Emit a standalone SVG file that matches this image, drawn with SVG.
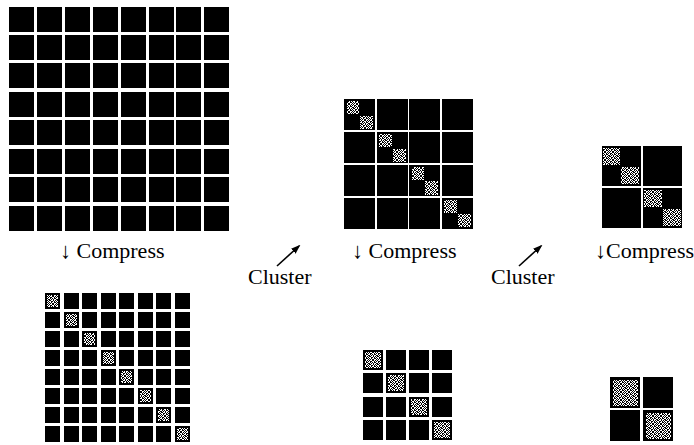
<svg xmlns="http://www.w3.org/2000/svg" xmlns:xlink="http://www.w3.org/1999/xlink" width="694" height="445" viewBox="0 0 694 445">
  <style>
    .blk { fill: #000; shape-rendering: crispEdges; }
    .gry { fill: url(#dither); shape-rendering: crispEdges; }
    .lbl { font-family: "Liberation Serif", "Times New Roman", serif; font-size: 22px; fill: #000; }
    .arr { stroke: #000; stroke-width: 1.6; fill: none; marker-end: url(#head); }
  </style>
  <defs>
    <pattern id="dither" patternUnits="userSpaceOnUse" x="0" y="0" width="8" height="8">
      <rect width="8" height="8" fill="#000"/>
      <path fill="#fff" d="M0 0h1v1h-1zM2 0h2v1h-2zM6 0h1v1h-1zM1 1h1v1h-1zM4 1h2v1h-2zM7 1h1v1h-1zM0 2h2v1h-2zM3 2h1v1h-1zM5 2h1v1h-1zM2 3h1v1h-1zM4 3h1v1h-1zM6 3h2v1h-2zM0 4h1v1h-1zM3 4h2v1h-2zM6 4h1v1h-1zM1 5h2v1h-2zM5 5h1v1h-1zM7 5h1v1h-1zM0 6h1v1h-1zM2 6h1v1h-1zM4 6h2v1h-2zM1 7h1v1h-1zM3 7h1v1h-1zM6 7h2v1h-2z"/>
    </pattern>
    <marker id="head" viewBox="0 0 10 10" refX="8" refY="5" markerWidth="6" markerHeight="6" orient="auto" markerUnits="strokeWidth">
      <path d="M0 1.5L10 5L0 8.5z" fill="#000"/>
    </marker>
    <g id="row8big">
      <rect class="blk" x="9" y="0" width="25" height="25"/>
      <rect class="blk" x="37" y="0" width="25" height="25"/>
      <rect class="blk" x="65" y="0" width="25" height="25"/>
      <rect class="blk" x="93" y="0" width="25" height="25"/>
      <rect class="blk" x="121" y="0" width="25" height="25"/>
      <rect class="blk" x="149" y="0" width="25" height="25"/>
      <rect class="blk" x="176" y="0" width="25" height="25"/>
      <rect class="blk" x="204" y="0" width="25" height="25"/>
    </g>
    <g id="row8small">
      <rect class="blk" x="45" y="0" width="15" height="16"/>
      <rect class="blk" x="64" y="0" width="15" height="16"/>
      <rect class="blk" x="82" y="0" width="15" height="16"/>
      <rect class="blk" x="101" y="0" width="15" height="16"/>
      <rect class="blk" x="119" y="0" width="15" height="16"/>
      <rect class="blk" x="138" y="0" width="15" height="16"/>
      <rect class="blk" x="156" y="0" width="15" height="16"/>
      <rect class="blk" x="175" y="0" width="15" height="16"/>
    </g>
    <g id="row4mid">
      <rect class="blk" x="344" y="0" width="31" height="31"/>
      <rect class="blk" x="377" y="0" width="31" height="31"/>
      <rect class="blk" x="409" y="0" width="31" height="31"/>
      <rect class="blk" x="442" y="0" width="31" height="31"/>
    </g>
    <g id="row4small">
      <rect class="blk" x="363" y="0" width="20" height="20"/>
      <rect class="blk" x="386" y="0" width="20" height="20"/>
      <rect class="blk" x="409" y="0" width="20" height="20"/>
      <rect class="blk" x="432" y="0" width="20" height="20"/>
    </g>
  </defs>
  <rect width="694" height="445" fill="#fff"/>

  <!-- 8x8 uncompressed matrix -->
  <g id="matrix-8x8">
    <use xlink:href="#row8big" y="7"/>
    <use xlink:href="#row8big" y="35"/>
    <use xlink:href="#row8big" y="63"/>
    <use xlink:href="#row8big" y="92"/>
    <use xlink:href="#row8big" y="120"/>
    <use xlink:href="#row8big" y="149"/>
    <use xlink:href="#row8big" y="177"/>
    <use xlink:href="#row8big" y="206"/>
  </g>

  <!-- 8x8 compressed matrix -->
  <g id="matrix-8x8-compressed">
    <use xlink:href="#row8small" y="293"/>
    <use xlink:href="#row8small" y="312"/>
    <use xlink:href="#row8small" y="331"/>
    <use xlink:href="#row8small" y="350"/>
    <use xlink:href="#row8small" y="369"/>
    <use xlink:href="#row8small" y="388"/>
    <use xlink:href="#row8small" y="407"/>
    <use xlink:href="#row8small" y="426"/>
    <rect class="gry" x="47" y="295" width="11" height="12"/>
    <rect class="gry" x="66" y="314" width="11" height="12"/>
    <rect class="gry" x="84" y="333" width="11" height="12"/>
    <rect class="gry" x="103" y="352" width="11" height="12"/>
    <rect class="gry" x="121" y="371" width="11" height="12"/>
    <rect class="gry" x="140" y="390" width="11" height="12"/>
    <rect class="gry" x="158" y="409" width="11" height="12"/>
    <rect class="gry" x="177" y="428" width="11" height="12"/>
  </g>

  <!-- 4x4 clustered matrix -->
  <g id="matrix-4x4">
    <use xlink:href="#row4mid" y="99"/>
    <use xlink:href="#row4mid" y="132"/>
    <use xlink:href="#row4mid" y="165"/>
    <use xlink:href="#row4mid" y="198"/>
    <rect class="gry" x="347" y="101" width="12" height="13"/>
    <rect class="gry" x="360" y="116" width="13" height="13"/>
    <rect class="gry" x="379" y="134" width="13" height="13"/>
    <rect class="gry" x="393" y="149" width="13" height="13"/>
    <rect class="gry" x="412" y="167" width="12" height="13"/>
    <rect class="gry" x="425" y="181" width="13" height="14"/>
    <rect class="gry" x="444" y="200" width="13" height="13"/>
    <rect class="gry" x="458" y="214" width="13" height="13"/>
  </g>

  <!-- 4x4 compressed matrix -->
  <g id="matrix-4x4-compressed">
    <use xlink:href="#row4small" y="350"/>
    <use xlink:href="#row4small" y="373"/>
    <use xlink:href="#row4small" y="397"/>
    <use xlink:href="#row4small" y="420"/>
    <rect class="gry" x="365" y="352" width="16" height="16"/>
    <rect class="gry" x="388" y="375" width="16" height="16"/>
    <rect class="gry" x="411" y="399" width="16" height="16"/>
    <rect class="gry" x="434" y="422" width="16" height="16"/>
  </g>

  <!-- 2x2 clustered matrix -->
  <g id="matrix-2x2">
    <rect class="blk" x="602" y="146" width="39" height="40"/>
    <rect class="blk" x="643" y="146" width="39" height="40"/>
    <rect class="blk" x="602" y="188" width="39" height="40"/>
    <rect class="blk" x="643" y="188" width="39" height="40"/>
    <rect class="gry" x="603" y="148" width="17" height="17"/>
    <rect class="gry" x="621" y="167" width="18" height="17"/>
    <rect class="gry" x="644" y="190" width="18" height="17"/>
    <rect class="gry" x="663" y="209" width="18" height="17"/>
  </g>

  <!-- 2x2 compressed matrix -->
  <g id="matrix-2x2-compressed">
    <rect class="blk" x="610" y="377" width="30" height="31"/>
    <rect class="blk" x="643" y="377" width="30" height="31"/>
    <rect class="blk" x="610" y="410" width="30" height="31"/>
    <rect class="blk" x="643" y="410" width="30" height="31"/>
    <rect class="gry" x="613" y="380" width="25" height="26"/>
    <rect class="gry" x="646" y="413" width="25" height="26"/>
  </g>

  <!-- connectors -->
  <g id="connectors">
    <line class="arr" x1="277" y1="266" x2="299" y2="246"/>
    <line class="arr" x1="519" y1="266" x2="541" y2="246"/>
  </g>

  <!-- labels -->
  <g id="labels">
    <text class="lbl" x="60" y="258">↓ Compress</text>
    <text class="lbl" x="248" y="284">Cluster</text>
    <text class="lbl" x="352" y="258">↓ Compress</text>
    <text class="lbl" x="491" y="284">Cluster</text>
    <text class="lbl" x="694" y="258" text-anchor="end">↓Compress</text>
  </g>
</svg>
